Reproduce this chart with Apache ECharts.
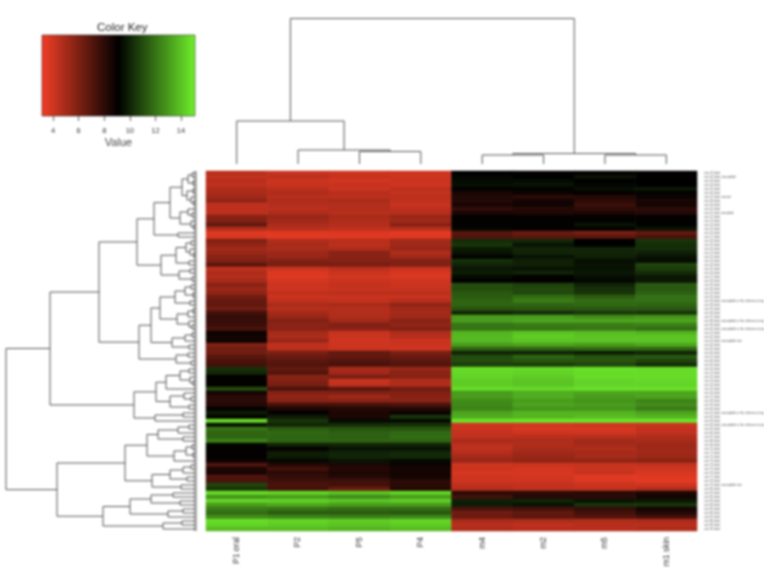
<!DOCTYPE html>
<html>
<head>
<meta charset="utf-8">
<style>
html,body{margin:0;padding:0;background:#fff}
#c{width:764px;height:572px;filter:blur(1px)}
</style>
<script src="https://cdn.jsdelivr.net/npm/echarts@6/dist/echarts.min.js"></script>
</head>
<body>
<div id="c"></div>
<script>
const samples = ['P1 oral','P2','P5','P4','m4','m2','m5','m1 skin'];
const keyTicks = [4,6,8,10,12,14];
const keyRange = [3.14,15.09];
const heatColors = ['#e83c24','#000000','#70f02c'];

// Samples P1 oral, P2, P5, P4 (one line per row, top to bottom)
const groupP = [
[4.4,4.0,3.9,3.8],[4.1,4.3,4.0,3.8],[4.4,3.9,3.7,3.9],[4.2,4.0,4.0,3.8],[4.6,4.3,3.9,4.3],
[4.8,4.6,4.4,4.1],[5.0,4.4,4.3,4.3],[5.4,4.6,4.7,4.2],[4.2,4.5,4.5,4.0],[4.3,4.3,4.5,4.3],
[4.2,4.6,4.4,4.4],[5.6,5.2,4.8,5.2],[5.8,5.0,4.6,5.0],[6.6,4.7,4.5,5.6],[4.6,4.4,4.2,4.4],
[3.4,3.4,3.5,3.3],[3.5,3.3,3.4,3.4],[5.8,4.6,4.4,5.0],[5.4,4.8,4.3,5.0],[5.0,4.7,4.6,5.2],
[5.2,5.1,5.6,4.6],[5.6,5.2,5.6,5.0],[5.8,5.8,5.7,5.8],[6.8,6.0,6.0,5.8],[4.2,3.9,4.3,4.0],
[4.6,3.5,3.9,3.6],[4.5,3.4,3.7,3.5],[4.8,3.7,3.9,3.8],[5.6,3.9,4.1,3.9],[5.2,3.8,4.0,4.0],
[5.4,4.2,4.3,4.3],[6.2,3.9,4.0,4.0],[6.5,4.2,4.1,4.4],[6.6,4.7,4.8,5.4],[6.2,4.4,4.5,5.0],
[7.4,4.9,4.5,4.9],[7.8,5.2,4.6,5.0],[7.7,5.8,5.0,5.6],[7.6,5.5,5.8,5.4],[7.2,5.6,5.6,5.8],
[8.8,4.8,4.0,4.6],[8.6,4.7,3.9,4.4],[8.8,5.2,3.8,4.0],[5.8,4.2,3.8,3.9],[6.2,4.3,3.9,3.8],
[6.2,6.0,6.6,6.0],[6.8,6.4,6.6,6.4],[7.2,6.8,7.0,6.8],[7.4,7.0,7.2,7.0],[10.3,6.6,4.8,5.2],
[10.1,7.0,5.0,5.6],[9.0,5.6,6.0,5.6],[9.0,5.8,4.0,4.6],[9.0,6.0,4.2,4.6],[11.0,7.2,6.8,6.2],
[8.6,5.7,5.8,5.8],[8.0,5.4,5.0,5.6],[8.0,5.6,5.6,5.6],[8.2,7.4,7.4,7.2],[9.0,8.4,8.2,8.2],
[9.8,9.0,8.4,8.8],[9.0,9.8,8.4,10.4],[14.6,10.4,9.4,9.4],[9.6,10.0,10.2,10.3],[12.0,11.4,11.2,11.2],
[11.6,11.7,11.5,11.7],[11.6,11.6,11.5,11.8],[12.3,11.6,11.6,11.6],[9.3,10.0,10.0,10.0],[9.0,9.0,9.6,9.6],
[9.0,9.8,10.0,10.1],[9.0,9.8,10.0,10.1],[8.8,9.3,9.6,9.4],[7.0,8.2,8.4,8.8],[8.4,7.4,8.2,8.6],
[8.5,8.0,8.4,8.6],[7.0,7.8,8.2,8.6],[7.2,7.5,7.5,8.0],[10.8,7.2,7.4,8.0],[10.4,7.4,6.4,8.2],
[14.6,14.4,14.0,14.4],[12.8,13.0,12.6,13.0],[14.4,14.3,14.0,14.2],[13.0,13.3,13.0,13.0],[12.2,12.0,11.8,11.8],
[11.8,11.4,11.4,11.3],[12.6,12.4,12.3,12.4],[14.6,14.4,14.2,14.4],[14.4,14.2,14.0,14.2],[13.8,13.8,13.6,13.8]
];
// Samples m4, m2, m5, m1 skin
const groupM = [
[9.1,9.0,9.0,9.0],[9.3,9.1,9.6,9.0],[9.4,9.4,9.1,9.1],[9.5,9.6,9.3,9.1],[9.2,9.2,9.5,9.7],
[8.5,8.8,9.0,9.2],[8.3,8.0,8.2,8.8],[8.2,8.6,8.0,8.5],[8.5,8.7,7.6,8.6],[7.8,8.2,7.9,8.0],
[8.4,8.3,8.4,8.2],[9.0,9.0,9.0,9.0],[9.0,9.0,9.2,9.0],[9.0,9.0,9.6,9.2],[9.3,9.2,9.2,9.6],
[6.9,6.4,6.0,6.6],[7.0,6.8,6.8,7.2],[10.2,10.1,9.1,10.4],[10.4,9.6,9.1,10.2],[9.8,10.0,10.0,10.2],
[9.6,10.0,10.0,9.9],[9.2,9.6,9.9,9.6],[10.3,9.9,9.5,9.4],[10.0,9.9,9.6,10.8],[9.7,9.6,9.6,10.6],
[9.8,10.0,9.7,10.2],[9.4,9.0,9.5,9.7],[9.1,9.1,9.3,9.7],[11.0,10.7,10.0,11.3],[11.0,10.9,10.3,11.3],
[11.3,10.9,10.4,11.5],[11.4,11.8,11.4,11.9],[11.6,12.2,11.8,11.9],[11.6,11.6,11.7,11.6],[11.2,11.3,11.3,11.3],
[10.0,10.2,10.5,10.4],[13.0,13.0,12.6,12.8],[13.0,13.2,13.2,13.2],[12.0,12.2,12.2,12.3],[12.0,12.0,12.1,11.8],
[13.6,14.0,13.8,13.6],[13.7,14.2,14.0,14.0],[13.7,14.0,14.0,14.0],[13.0,13.2,13.0,13.3],[11.6,11.6,11.8,11.7],
[10.0,10.0,9.8,10.0],[11.0,11.6,11.2,11.3],[11.0,11.2,11.2,10.8],[10.6,10.6,10.8,10.2],[14.6,14.5,14.7,14.6],
[14.5,14.4,14.6,14.6],[14.4,14.2,14.6,14.6],[14.2,14.0,14.4,14.5],[14.2,14.0,14.4,14.4],[14.6,14.5,14.7,14.7],
[13.0,13.4,13.2,13.2],[13.0,13.4,13.0,13.2],[12.6,13.0,12.8,12.4],[12.5,13.2,13.0,12.6],[12.4,12.8,12.8,12.2],
[13.2,13.6,13.6,13.2],[13.4,13.6,13.8,13.6],[14.8,14.8,14.8,14.8],[3.8,3.7,3.8,3.9],[3.9,3.6,3.6,4.1],
[4.1,3.8,3.8,4.2],[4.2,4.4,4.4,4.6],[4.8,4.6,5.0,4.8],[4.3,4.6,4.9,5.1],[4.2,4.7,4.6,5.0],
[4.5,5.0,4.9,5.0],[4.9,5.2,4.9,5.1],[5.2,5.4,5.4,5.6],[3.8,3.9,4.0,4.1],[3.9,3.7,3.9,3.8],
[3.6,3.6,4.0,3.6],[3.8,3.7,3.3,3.4],[3.8,3.8,3.5,3.3],[4.2,4.1,3.9,3.8],[4.4,4.2,4.1,4.5],
[8.0,8.0,8.1,8.4],[7.4,8.2,8.0,8.6],[9.9,10.0,9.6,9.7],[9.8,9.6,10.4,10.4],[7.2,7.4,7.8,8.6],
[6.2,6.6,7.4,8.2],[6.4,6.8,7.0,7.4],[4.8,4.7,4.6,4.7],[4.4,4.2,4.4,4.4],[4.6,4.4,4.4,4.6]
];
// The row names are unreadable in the reference; neutral placeholders stand in for them.
const longRowLabels = {1:'row 02 label unreadable',6:'row 07 label unread',10:'row 11 label unreadab',
 32:'row 33 label unreadable in the reference image',37:'row 38 label unreadable in the reference image',
 39:'row 40 label unreadable in the reference image',42:'row 43 label unreadable text',
 60:'row 61 label unreadable in the reference image',63:'row 64 label unreadable in the reference image',78:'row 79 label unreadable text'};

// Dendrograms: [merge height, child, child]; a plain number is a row/sample index
const colTree = [145.5,[43,0,[14,1,[12.5,2,3]]],[10.5,[9,4,5],[9,6,7]]];
const treeA = [60,
 [43,[27,[15,[9,[5,0,1],[4,2,3]],[10,[4,4,5],[6,6,[3,7,8]]]],[17,[9,9,[5,10,11]],[6,12,[3,13,14]]]],[19,15,16]],
 [36,[21,[11,[6,17,18],[7,19,[3,20,21]]],[8,22,23]],[18,[7,24,25],[5,26,27]]]];
const treeB = [58,
 [46,[37,[22,[12,[6,28,29],[4,30,31]],[7,32,33]],[20,[9,[4,34,35],36],[8,37,[5,38,39]]]],[25,[12,[5,40,41],42],[8,43,44]]],
 [21,[9,45,46],[6,47,48]]];
const treeUL = [63,
 [41,[31,[17,[8,49,50],[7,51,[4,52,53]]],54],[27,[13,55,[6,56,57]],[8,58,59]]],
 [42,[14,60,61],62]];
const treeC = [72,
 [50,[39,[19,[8,63,64],65],[14,66,67]],[23,[11,[5,68,69],[4,70,71]],72]],
 [45,[27,[14,[6,73,74],75],[10,76,77]],[16,78,79]]];
const treeD = [94,
 [67,[46,[24,80,81],[17,82,83]],[29,[14,84,85],86]],
 [34,[15,87,88],89]];
const rowTree = [191,[147,[98,treeA,treeB],treeUL],[140,treeC,treeD]];
// Each heat row stands for a pair of leaves in the fine, illegible end of the row tree
const leafFork = 3;

function links(tree, out, fork){
  if (typeof tree === 'number') {
    if (fork) { out.push([tree + 0.25, 0, fork, tree + 0.75, 0]); return {pos: tree + 0.5, h: fork}; }
    return {pos: tree + 0.5, h: 0};
  }
  const a = links(tree[1], out, fork), b = links(tree[2], out, fork);
  out.push([a.pos, a.h, tree[0], b.pos, b.h]);
  return {pos: (a.pos + b.pos) / 2, h: tree[0]};
}
const colLinks = [], rowLinks = [];
links(colTree, colLinks, 0);
links(rowTree, rowLinks, leafFork);

const heatData = [];
groupP.forEach((r, y) => {
  r.forEach((v, x) => heatData.push([x, y, v]));
  groupM[y].forEach((v, x) => heatData.push([x + 4, y, v]));
});
const rowLabels = groupP.map((_, i) => longRowLabels[i] || ('row ' + String(i + 1).padStart(2, '0') + ' label'));

const LINE = '#555', TEXT = '#333', FONT = '"Liberation Sans", Arial, sans-serif';
function dendro(vertical){
  return function(params, api){
    const p = [api.value(0), api.value(1), api.value(2), api.value(3), api.value(4)];
    const pts = vertical
      ? [[p[0],p[1]],[p[0],p[2]],[p[3],p[2]],[p[3],p[4]]]
      : [[p[1],p[0]],[p[2],p[0]],[p[2],p[3]],[p[4],p[3]]];
    return {type:'polyline', shape:{points: pts.map(q => api.coord(q))},
      style:{stroke: LINE, fill:null, lineWidth:1}, silent:true};
  };
}
const hiddenAxis = {show:false};
const chart = echarts.init(document.getElementById('c'), null, {renderer:'canvas'});
chart.setOption({
  animation:false,
  backgroundColor:'#fff',
  textStyle:{fontFamily:FONT},
  title:{text:'Color Key', left:92, top:17,
    textStyle:{fontSize:11.5, fontWeight:'normal', color:'#222', fontFamily:FONT}},
  grid:[
    {left:206, top:171, width:491, height:360, outerBoundsMode:'none'},
    {left:206, top:10, width:491, height:154, outerBoundsMode:'none'},
    {left:5, top:171, width:192, height:360, outerBoundsMode:'none'},
    {left:42, top:35, width:153, height:81, outerBoundsMode:'none'}
  ],
  xAxis:[
    {type:'category', gridIndex:0, data:samples, axisLine:{show:false}, axisTick:{show:false}, splitLine:{show:false},
      axisLabel:{rotate:90, interval:0, margin:6, fontSize:8.5, color:TEXT, fontFamily:FONT}},
    {type:'value', gridIndex:1, min:0, max:8, ...hiddenAxis},
    {type:'value', gridIndex:2, min:0, max:192, inverse:true, ...hiddenAxis},
    {type:'value', gridIndex:3, min:keyRange[0], max:keyRange[1], splitLine:{show:false}, axisLine:{show:false},
      axisTick:{show:true, length:5, lineStyle:{color:'#666'}, customValues:keyTicks},
      axisLabel:{fontSize:7.5, color:TEXT, margin:11, fontFamily:FONT, customValues:keyTicks},
      name:'Value', nameLocation:'middle', nameGap:21, nameTextStyle:{fontSize:11, color:'#444', fontFamily:FONT}}
  ],
  yAxis:[
    {type:'category', gridIndex:0, data:rowLabels, inverse:true, position:'right', axisLine:{show:false}, axisTick:{show:false}, splitLine:{show:false},
      axisLabel:{interval:0, margin:7, fontSize:3, color:'#555', fontFamily:FONT}},
    {type:'value', gridIndex:1, min:0, max:154, ...hiddenAxis},
    {type:'value', gridIndex:2, min:0, max:90, inverse:true, ...hiddenAxis},
    {type:'value', gridIndex:3, min:0, max:1, ...hiddenAxis}
  ],
  visualMap:{show:false, seriesIndex:0, dimension:2, min:keyRange[0], max:keyRange[1], inRange:{color:heatColors}},
  series:[
    {type:'heatmap', xAxisIndex:0, yAxisIndex:0, data:heatData, progressive:0, silent:true, emphasis:{disabled:true}},
    {type:'custom', xAxisIndex:1, yAxisIndex:1, data:colLinks, renderItem:dendro(true), clip:false, silent:true},
    {type:'custom', xAxisIndex:2, yAxisIndex:2, data:rowLinks, renderItem:dendro(false), clip:false, silent:true},
    {type:'custom', xAxisIndex:3, yAxisIndex:3, data:[[keyRange[0],keyRange[1]]], silent:true, clip:false,
      renderItem:function(params, api){
        const a = api.coord([api.value(0),1]), b = api.coord([api.value(1),0]);
        return {type:'rect', shape:{x:a[0], y:a[1], width:b[0]-a[0], height:b[1]-a[1]},
          style:{stroke:'rgba(40,40,40,0.55)', lineWidth:1,
            fill:new echarts.graphic.LinearGradient(0,0,1,0,[
              {offset:0,color:'#ff1c1c'},{offset:0.02,color:heatColors[0]},{offset:0.5,color:heatColors[1]},{offset:1,color:heatColors[2]}])}};
      }}
  ]
});
</script>
</body>
</html>
